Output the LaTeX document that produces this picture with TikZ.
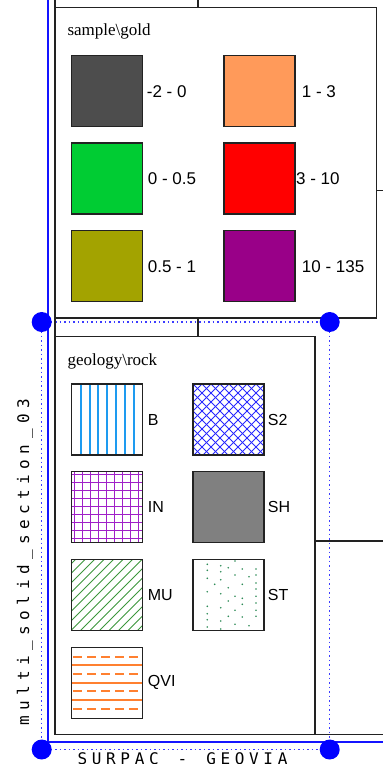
\documentclass[tikz,border=0pt]{standalone}
\usepackage{fontspec}
\newfontfamily\labfont{Liberation Sans}
\newfontfamily\ttlfont{Liberation Serif}
\newfontfamily\monfont{DejaVu Sans Mono}
\newlength\cellw
\def\spc#1{\spci#1\relax}
\def\spci#1{\ifx\relax#1\else\makebox[\cellw]{#1}\expandafter\spci\fi}
\definecolor{bsolid}{HTML}{1414FF}
\definecolor{bdot}{HTML}{3C3CFF}
\definecolor{bfill}{HTML}{0000FF}
\definecolor{frm}{HTML}{222222}
\definecolor{cdk}{HTML}{4D4D4D}
\definecolor{cor}{HTML}{FF9A5A}
\definecolor{cgr}{HTML}{00CC33}
\definecolor{crd}{HTML}{FF0000}
\definecolor{col}{HTML}{A3A300}
\definecolor{cpu}{HTML}{990088}
\definecolor{hB}{HTML}{1E9BF0}
\definecolor{hS}{HTML}{2828FF}
\definecolor{hI}{HTML}{A020C8}
\definecolor{hSH}{HTML}{808080}
\definecolor{hM}{HTML}{3C963C}
\definecolor{hST}{HTML}{2E8B57}
\definecolor{hQ}{HTML}{FF8030}
\tikzset{
  frame/.style={draw=frm, line width=1.3pt},
  panel/.style={draw=frm, line width=1.3pt, anchor=north west, inner sep=0pt, outer sep=0pt},
  bsolidline/.style={draw=bsolid, line width=1.7pt},
  bdotted/.style={draw=bdot, line width=1.5pt, dash pattern=on 1.5pt off 3pt},
  bdotnode/.style={circle, fill=bfill, minimum size=20pt, inner sep=0pt},
  sq/.style={draw=frm, line width=1.4pt, minimum width=71pt, minimum height=71pt, inner sep=0pt, outer sep=0pt, anchor=north west},
  ttl/.style={font=\ttlfont\fontsize{17}{20}\selectfont, inner sep=0pt, anchor=base west},
  lab/.style={font=\labfont\fontsize{17}{20}\selectfont, inner sep=0pt, anchor=west},
  glab/.style={font=\labfont\fontsize{16}{19}\selectfont, inner sep=0pt, anchor=west},
  mono/.style={font=\monfont\fontsize{16}{19}\selectfont, inner sep=0pt, anchor=base}
}
% vertical lines of B: x origin 72 (integer grid)
\newcommand\hatchB[2]{\begin{scope}\clip ({#1-0.3},#2) rectangle ++(71,71);
  \foreach \k in {9,18,26,35,44,53,62}{\draw[hB, line width=2pt] ({#1+\k},#2) -- ++(0,71);}\end{scope}}
\newcommand\hatchS[2]{\begin{scope}\clip (#1,#2) rectangle ++(71,71);
  \foreach \c in {-72,-63,...,144}{\draw[hS, line width=1pt] ({#1+\c},#2) -- ++(71,71);
    \draw[hS, line width=1pt] ({#1+\c},#2) -- ++(-71,71);}\end{scope}}
\newcommand\hatchI[2]{\begin{scope}\clip (#1,#2) rectangle ++(71,71);
  \foreach \k in {0,...,8}{\draw[hI, line width=1.4pt] ({#1+2.5+8*\k},#2) -- ++(0,71);
    \draw[hI, line width=1.4pt] (#1,{#2+2.5+8*\k}) -- ++(71,0);}\end{scope}}
\newcommand\hatchM[2]{\begin{scope}\clip (#1,#2) rectangle ++(71,71);
  \foreach \c in {4,13.5,...,145}{\draw[hM, line width=0.9pt] ({#1+\c},#2) -- ++(-71,71);}\end{scope}}
\newcommand\hatchT[2]{\begin{scope}
  \foreach \p/\q in {14.3/5,27.7/6.4,35.3/8.4,42/1.7,49.3/9.7,63/9.7,14.3/11,27.7/12.4,42/15.7,56/17.4,
    63/15.7,14.3/19,27.7/20.4,21.7/25,49.3/25,63/23.7,35.3/28.4,63/29.7,14.3/32.4,27.7/34.4,
    42/37,49.3/39,63/37,35.3/41.7,49.3/45,63/43.7,14.3/47,27.7/48.4,42/51,63/51,
    14.3/54.4,35.3/57,49.3/57.7,63/57,14.3/60.4,27.7/61.7,42/65,56/66.4,14.3/67.7,27.7/69.7}
    {\fill[hST] ({#1+\p},{#2+\q}) circle (0.9pt);}\end{scope}}
% horizontal lines of QVI: y origin 647 (integer grid)
\newcommand\hatchQ[2]{\begin{scope}\clip (#1,{#2+0.3}) rectangle ++(71,71);
  \foreach \q in {10,27,44,62}{\draw[hQ, line width=2pt, dash pattern=on 8.5pt off 5.5pt] ({#1+1.7},{#2+\q}) -- ++(71,0);}
  \foreach \q in {18,36,53}{\draw[hQ, line width=2pt] (#1,{#2+\q}) -- ++(71,0);}\end{scope}}
\begin{document}
\begin{tikzpicture}[x=1pt,y=-1pt]
\useasboundingbox (0,0) rectangle (383,764);
% corner coordinates
\coordinate (pTL) at (41.7,322);
\coordinate (pTR) at (329.7,322);
\coordinate (pBL) at (41.7,749.5);
\coordinate (pBR) at (329.7,749.5);
\coordinate (sTop) at (47.7,0);
\coordinate (sCorner) at (47.7,742.3);
\coordinate (sRight) at (383,742.3);
% dotted blue frame
\draw[bdotted] (pTL) -- (pTR) (pBL) -- (pBR) (pTL) -- (pBL) (pTR) -- (pBR);
% solid blue frame
\draw[bsolidline] (sTop) -- (sCorner) -- (sRight);
% black layout lines
\coordinate (kTop) at (55,0);
\coordinate (kBot) at (55,734.3);
\coordinate (kBotR) at (383,734.3);
\draw[frame] (kTop) -- (kBot) -- (kBotR);
\coordinate (tA) at (198,0); \coordinate (tB) at (198,7.3);
\coordinate (tC) at (198,318); \coordinate (tD) at (198,336.7);
\draw[frame] (tA) -- (tB) (tC) -- (tD);
\coordinate (rA) at (376.7,190.7); \coordinate (rB) at (383,190.7);
\draw[frame] (rA) -- (rB);
\coordinate (hA) at (315,541); \coordinate (hZ) at (383,541);
\draw[frame] (hA) -- (hZ);
% panels
\node[panel, minimum width=321.7pt, minimum height=310.7pt] (gold) at (55,7.3) {};
\node[panel, minimum width=260pt, minimum height=397.6pt] (rock) at (55,336.7) {};
% gold legend
\node[ttl] (goldt) at (67.3,35.7) {sample\textbackslash gold};
\node[sq, fill=cdk] (g1) at (71.7,55.7) {};
\node[sq, fill=cgr] (g2) at (71.7,143) {};
\node[sq, fill=col] (g3) at (71.7,230.7) {};
\node[sq, fill=cor] (g4) at (224,55.7) {};
\node[sq, fill=crd] (g5) at (224,143) {};
\node[sq, fill=cpu] (g6) at (224,230.7) {};
\node[lab] (gl1) at (146.7,91.2) {-2 - 0};
\node[lab] (gl2) at (147.7,178.5) {0 - 0.5};
\node[lab] (gl3) at (147.7,266.2) {0.5 - 1};
\node[lab] (gl4) at (301.7,91.2) {1 - 3};
\node[lab] (gl5) at (296,178.5) {3 - 10};
\node[lab] (gl6) at (301.7,266.2) {10 - 135};
% rock legend
\node[ttl] (rockt) at (67.3,365.7) {geology\textbackslash rock};
\hatchB{72}{384}
\hatchI{71.7}{471.7}
\hatchM{71.7}{559.3}
\hatchQ{71.7}{647}
\hatchS{193}{384}
\hatchT{193}{559.3}
\node[sq] (r1) at (71.7,384) {};
\node[sq] (r2) at (71.7,471.7) {};
\node[sq] (r3) at (71.7,559.3) {};
\node[sq] (r4) at (71.7,647.3) {};
\node[sq] (r5) at (193,384) {};
\node[sq, fill=hSH] (r6) at (193,471.7) {};
\node[sq] (r7) at (193,559.3) {};
\node[glab] (rl1) at (147.7,419.5) {B};
\node[glab] (rl2) at (147.7,507.2) {IN};
\node[glab] (rl3) at (147.7,594.8) {MU};
\node[glab] (rl4) at (147.7,682.8) {QVI};
\node[glab] (rl5) at (267.7,419.5) {S2};
\node[glab] (rl6) at (267.7,507.2) {SH};
\node[glab] (rl7) at (267.7,594.8) {ST};
% blue corner dots
\node[bdotnode] (d1) at (pTL) {};
\node[bdotnode] (d2) at (pTR) {};
\node[bdotnode] (d3) at (pBL) {};
\node[bdotnode] (d4) at (pBR) {};
% texts
\node[mono, rotate=90] (vt) at (29,562.5) {\setlength\cellw{15.1pt}\spc{multi\_solid\_section\_03}};
\node[mono] (bt) at (182.5,764) {\setlength\cellw{14.3pt}\spc{SURPAC~-~GEOVIA}};
\end{tikzpicture}
\end{document}
